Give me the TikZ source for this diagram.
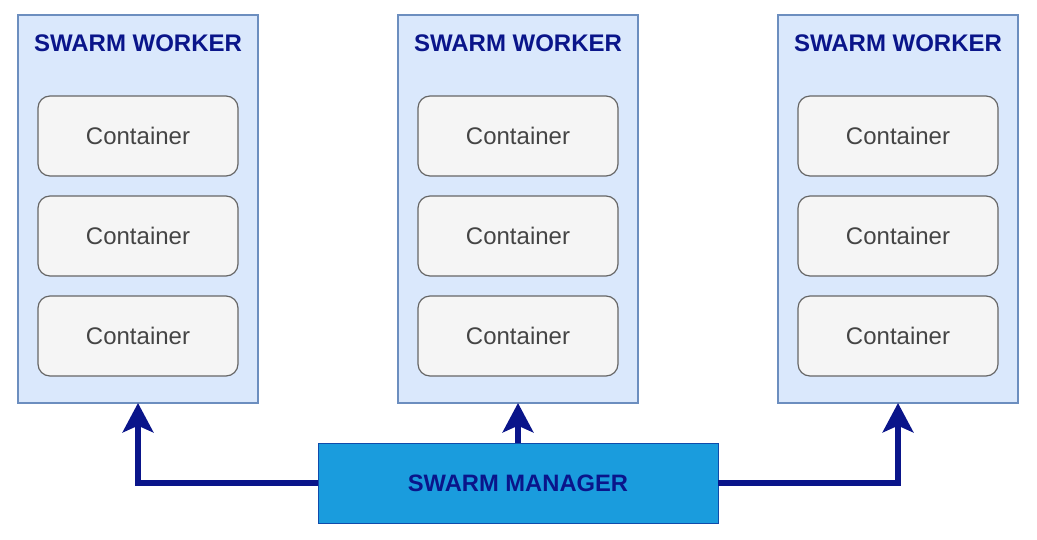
\documentclass[tikz,border=0pt]{standalone}
\usepackage{fontspec}
\setmainfont{Liberation Sans}
\usetikzlibrary{positioning}
\usetikzlibrary{arrows.meta}
\definecolor{workerfill}{HTML}{DAE8FC}
\definecolor{workerline}{HTML}{6C8EBF}
\definecolor{boxfill}{HTML}{F5F5F5}
\definecolor{boxline}{HTML}{666666}
\definecolor{boxtext}{HTML}{444444}
\definecolor{navy}{HTML}{0A158A}
\definecolor{managerfill}{HTML}{1A9CDD}

\begin{document}
\begin{tikzpicture}[x=0.75pt,y=-0.75pt,
	worker node/.style={rectangle,draw=workerline,fill=workerfill,line width=0.9pt,
		outer sep=0pt,minimum width=180pt,minimum height=291pt,inner sep=0pt},
	title node/.style={font=\fontsize{18}{20}\selectfont\bfseries,text=navy},
	container node/.style={rectangle,rounded corners=9pt,draw=boxline,fill=boxfill,
		line width=0.9pt,outer sep=0pt,minimum width=150pt,minimum height=60pt,
		font=\fontsize{18}{20}\selectfont,text=boxtext},
	manager node/.style={rectangle,draw=navy!60!managerfill,fill=managerfill,line width=0.6pt,
		outer sep=0pt,minimum width=300pt,minimum height=60pt,
		font=\fontsize{17.8}{20}\selectfont\bfseries,text=navy},
	link/.style={draw=navy,line width=4pt,-{Stealth[length=22pt,width=23pt,inset=5pt]}}]
	
	\useasboundingbox (0,0) rectangle (1037,539);
	
	\node[worker node] (w1) at (138,209) {};
	\node[worker node] (w2) [right=105pt of w1] {};
	\node[worker node] (w3) [right=105pt of w2] {};
	
	\node[title node] (t1) at ([yshift=-21pt]w1.north) {SWARM WORKER};
	\node[title node] (t2) at ([yshift=-21pt]w2.north) {SWARM WORKER};
	\node[title node] (t3) at ([yshift=-21pt]w3.north) {SWARM WORKER};
	
	\node[container node] (c11) [below=60.75pt of w1.north] {Container};
	\node[container node] (c12) [below=15pt of c11] {Container};
	\node[container node] (c13) [below=15pt of c12] {Container};
	
	\node[container node] (c21) [below=60.75pt of w2.north] {Container};
	\node[container node] (c22) [below=15pt of c21] {Container};
	\node[container node] (c23) [below=15pt of c22] {Container};
	
	\node[container node] (c31) [below=60.75pt of w3.north] {Container};
	\node[container node] (c32) [below=15pt of c31] {Container};
	\node[container node] (c33) [below=15pt of c32] {Container};
	
	\node[manager node] (m) [below=30pt of w2] {SWARM MANAGER};
	
	\draw[link] (m.west) -| (w1.south);
	\draw[link] (m.north) -- (w2.south);
	\draw[link] (m.east) -| (w3.south);
\end{tikzpicture}
\end{document}
